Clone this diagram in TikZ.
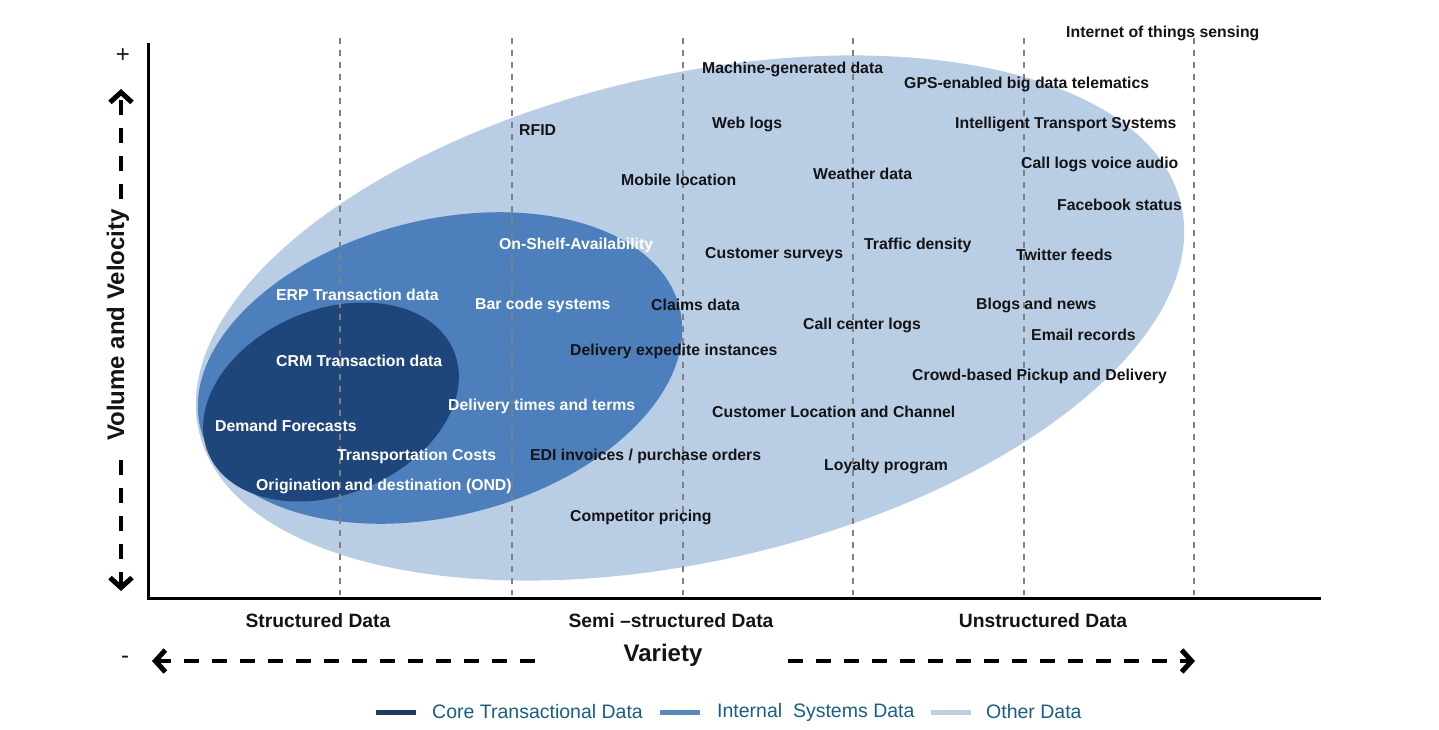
\documentclass[tikz,border=0pt]{standalone}
\usepackage{fontspec}
\setmainfont{Liberation Sans}
\usetikzlibrary{arrows.meta}
\definecolor{outerc}{RGB}{185,205,228}
\definecolor{midc}{RGB}{76,127,188}
\definecolor{innerc}{RGB}{31,70,122}
\definecolor{legdark}{RGB}{31,56,100}
\definecolor{legmid}{RGB}{90,135,185}
\definecolor{leglight}{RGB}{190,206,225}
\definecolor{legtext}{RGB}{25,95,130}
\definecolor{txt}{RGB}{20,20,20}
\definecolor{gridc}{RGB}{128,128,128}
\begin{document}
\begin{tikzpicture}[x=1pt,y=-1pt,
  lbl/.style={anchor=west,inner sep=0pt,font=\fontsize{15.8}{18}\bfseries\selectfont,text=txt},
  wlbl/.style={lbl,text=white},
  catlbl/.style={inner sep=0pt,font=\fontsize{19.3}{22}\bfseries\selectfont,text=txt},
  axlbl/.style={inner sep=0pt,font=\fontsize{24}{28}\bfseries\selectfont,text=txt},
  signlbl/.style={inner sep=0pt,font=\fontsize{24}{28}\selectfont,text=txt},
  leglbl/.style={anchor=west,inner sep=0pt,font=\fontsize{19.5}{22}\selectfont,text=legtext},
  gridline/.style={draw=gridc,line width=2pt,dash pattern=on 6pt off 6pt},
  axisline/.style={line width=3pt,black},
  darrow/.style={line width=4pt,black,dash pattern=on 15pt off 13pt,-{Straight Barb[length=10pt,width=22pt,line width=5pt]}},
  legline/.style={line width=5pt}
]
\useasboundingbox (0,0) rectangle (1439,730);
\fill[white] (0,0) rectangle (1439,730);

% ellipses
\fill[outerc, rotate around={13:(690,318)}] (690,318) ellipse (504pt and 243pt);
\fill[midc, rotate around={14.2:(440,368)}] (440,368) ellipse (247pt and 148pt);
\fill[innerc, rotate around={22.5:(331,402)}] (331,402) ellipse (133pt and 92.5pt);

% grid lines
\foreach \gx/\gn in {340/g1,512/g2,683/g3,853/g4,1024/g5,1194/g6}{
  \coordinate (\gn top) at (\gx,38);
  \coordinate (\gn bot) at (\gx,595);
  \draw[gridline] (\gn top) -- (\gn bot);
}

% axes
\coordinate (ytop) at (148,43);
\coordinate (orig) at (148,598);
\coordinate (xend) at (1321,598);
\draw[axisline] (ytop) -- (orig) -- (xend);

% axis arrows
\coordinate (vu0) at (121,199);
\coordinate (vu1) at (121,89);
\coordinate (vd0) at (121,460);
\coordinate (vd1) at (121,591);
\coordinate (hl0) at (535,661);
\coordinate (hl1) at (152,661);
\coordinate (hr0) at (788,661);
\coordinate (hr1) at (1195,661);
\draw[darrow] (vu0) -- (vu1);
\draw[darrow] (vd0) -- (vd1);
\draw[darrow] (hl0) -- (hl1);
\draw[darrow] (hr0) -- (hr1);

\node[signlbl] (plus) at (123,56) {+};
\node[signlbl] (minus) at (125,660) {-};
\node[axlbl, rotate=90] (yl) at (118,325) {Volume and Velocity};
\node[axlbl] (xl) at (663,655) {Variety};
\node[catlbl] (c1) at (318,621) {Structured Data};
\node[catlbl] (c2) at (671,621) {Semi –structured Data};
\node[catlbl] (c3) at (1043,621) {Unstructured Data};

% labels
\node[lbl] (t01) at (1066,33) {Internet of things sensing};
\node[lbl] (t02) at (702,69) {Machine-generated data};
\node[lbl] (t03) at (904,84) {GPS-enabled big data telematics};
\node[lbl] (t04) at (519,130) {RFID};
\node[lbl] (t05) at (712,124) {Web logs};
\node[lbl] (t06) at (955,124) {Intelligent Transport Systems};
\node[lbl] (t07) at (1021,164) {Call logs voice audio};
\node[lbl] (t08) at (621,180) {Mobile location};
\node[lbl] (t09) at (813,174) {Weather data};
\node[lbl] (t10) at (1057,205) {Facebook status};
\node[wlbl] (t11) at (499,245) {On-Shelf-Availability};
\node[lbl] (t12) at (705,255) {Customer surveys};
\node[lbl] (t13) at (864,245) {Traffic density};
\node[lbl] (t14) at (1016,255) {Twitter feeds};
\node[wlbl] (t15) at (276,295) {ERP Transaction data};
\node[wlbl] (t16) at (475,305) {Bar code systems};
\node[lbl] (t17) at (651,305) {Claims data};
\node[lbl] (t18) at (976,305) {Blogs and news};
\node[lbl] (t19) at (803,325) {Call center logs};
\node[lbl] (t20) at (1031,335) {Email records};
\node[wlbl] (t21) at (276,361) {CRM Transaction data};
\node[lbl] (t22) at (570,351) {Delivery expedite instances};
\node[lbl] (t23) at (912,376) {Crowd-based Pickup and Delivery};
\node[wlbl] (t24) at (448,406) {Delivery times and terms};
\node[lbl] (t25) at (712,412) {Customer Location and Channel};
\node[wlbl] (t26) at (215,426) {Demand Forecasts};
\node[wlbl] (t27) at (337,456) {Transportation Costs};
\node[lbl] (t28) at (530,456) {EDI invoices / purchase orders};
\node[lbl] (t29) at (824,466) {Loyalty program};
\node[wlbl] (t30) at (256,486) {Origination and destination (OND)};
\node[lbl] (t31) at (570,517) {Competitor pricing};

% legend
\coordinate (l1a) at (376,712); \coordinate (l1b) at (416,712);
\coordinate (l2a) at (660,712); \coordinate (l2b) at (700,712);
\coordinate (l3a) at (931,712); \coordinate (l3b) at (971,712);
\draw[legline, legdark] (l1a) -- (l1b);
\draw[legline, legmid] (l2a) -- (l2b);
\draw[legline, leglight] (l3a) -- (l3b);
\node[leglbl] (lt1) at (432,712) {Core Transactional Data};
\node[leglbl] (lt2) at (717,712) {Internal\ \ Systems Data};
\node[leglbl] (lt3) at (986,712) {Other Data};
\end{tikzpicture}
\end{document}
